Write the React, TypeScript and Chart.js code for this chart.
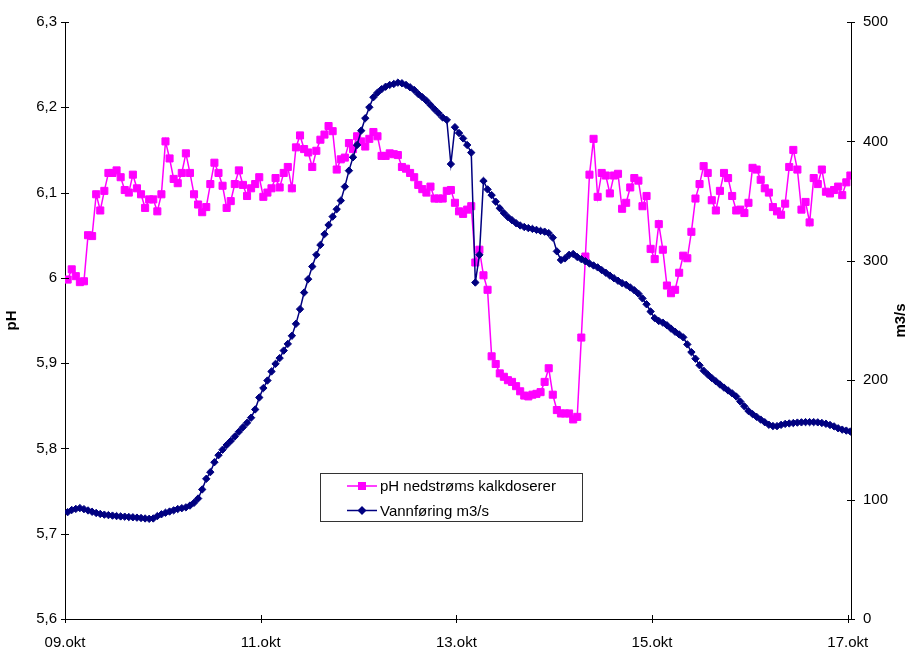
import React, { useEffect, useRef } from 'react';
import Chart from 'chart.js/auto';

// hourly readings from 09.okt to 17.okt (x in hours after 09.okt 00:00)
const START_HOUR = 0.65;
const X_MAX = 192.8;
const DAY_TICKS = [0, 48, 96, 144, 192];
const DAY_LABELS = ['09.okt', '11.okt', '13.okt', '15.okt', '17.okt'];
const PH_TICKS = [5.6, 5.7, 5.8, 5.9, 6.0, 6.1, 6.2, 6.3];
const FLOW_TICKS = [0, 100, 200, 300, 400, 500];

const PH_LABEL = 'pH nedstrøms kalkdoserer';
const FLOW_LABEL = 'Vannføring m3/s';

const phValues = [
  5.998, 6.010, 6.002, 5.995, 5.996, 6.050, 6.049, 6.098, 6.079, 6.102,
  6.123, 6.123, 6.126, 6.118, 6.103, 6.100, 6.121, 6.105, 6.098, 6.082,
  6.092, 6.092, 6.078, 6.098, 6.160, 6.140, 6.116, 6.111, 6.123, 6.146,
  6.123, 6.098, 6.086, 6.077, 6.083, 6.110, 6.135, 6.123, 6.108, 6.082,
  6.090, 6.110, 6.126, 6.109, 6.096, 6.105, 6.110, 6.118, 6.095, 6.100,
  6.105, 6.117, 6.106, 6.123, 6.130, 6.105, 6.153, 6.167, 6.151, 6.147,
  6.130, 6.149, 6.162, 6.168, 6.178, 6.172, 6.127, 6.139, 6.141, 6.158,
  6.151, 6.166, 6.160, 6.154, 6.163, 6.171, 6.166, 6.143, 6.143, 6.146,
  6.145, 6.144, 6.130, 6.128, 6.123, 6.118, 6.109, 6.104, 6.100, 6.107,
  6.093, 6.093, 6.093, 6.102, 6.103, 6.088, 6.078, 6.075, 6.080, 6.084,
  6.018, 6.033, 6.003, 5.986, 5.908, 5.899, 5.888, 5.884, 5.880, 5.878,
  5.873, 5.867, 5.862, 5.861, 5.863, 5.864, 5.866, 5.878, 5.894, 5.863,
  5.845, 5.841, 5.841, 5.841, 5.834, 5.837, 5.930, 6.025, 6.121, 6.163,
  6.095, 6.123, 6.120, 6.099, 6.120, 6.122, 6.081, 6.088, 6.106, 6.117,
  6.114, 6.084, 6.096, 6.034, 6.022, 6.063, 6.033, 5.991, 5.982, 5.986,
  6.006, 6.026, 6.023, 6.054, 6.093, 6.110, 6.131, 6.123, 6.091, 6.079,
  6.102, 6.123, 6.117, 6.096, 6.079, 6.080, 6.076, 6.088, 6.129, 6.127,
  6.115, 6.105, 6.100, 6.083, 6.078, 6.074, 6.087, 6.130, 6.150, 6.127,
  6.080, 6.089, 6.065, 6.117, 6.110, 6.127, 6.101, 6.099, 6.103, 6.107,
  6.097, 6.112, 6.120,
];

const flowValues = [
  89.5, 91.3, 92.2, 92.9, 92.0, 90.9, 89.8, 88.8, 88.0, 87.4,
  87.0, 86.6, 86.2, 85.9, 85.7, 85.4, 85.2, 84.9, 84.6, 84.2,
  83.9, 84.2, 86.2, 87.7, 89.0, 90.0, 91.0, 92.1, 92.8, 93.5,
  95.0, 97.3, 100.9, 108.5, 117.4, 123.0, 131.3, 137.2, 141.8, 145.7,
  149.1, 152.8, 156.8, 160.6, 164.3, 168.6, 175.5, 185.5, 193.4, 199.7,
  207.3, 213.7, 218.5, 224.8, 230.4, 237.2, 247.2, 259.5, 273.4, 284.6,
  295.2, 305.0, 313.3, 322.3, 330.0, 337.0, 343.2, 350.4, 362.1, 375.5,
  386.7, 397.0, 409.0, 419.4, 428.6, 437.0, 440.8, 443.7, 445.8, 447.3,
  448.1, 449.2, 448.7, 447.3, 445.3, 443.1, 439.7, 437.0, 434.1, 430.5,
  426.9, 423.6, 420.0, 418.0, 381.0, 411.9, 407.0, 402.5, 397.0, 390.6,
  281.8, 305.0, 366.9, 359.8, 355.0, 349.5, 344.0, 340.0, 336.6, 334.0,
  331.5, 329.6, 328.3, 327.4, 326.7, 325.9, 325.0, 324.4, 323.2, 319.4,
  307.9, 300.7, 302.0, 305.0, 305.7, 303.2, 301.4, 299.6, 297.7, 296.1,
  294.5, 292.2, 290.0, 287.6, 285.4, 283.3, 281.3, 279.9, 277.7, 275.3,
  272.5, 268.5, 263.6, 257.5, 252.0, 249.6, 248.2, 246.0, 243.2, 240.6,
  238.3, 235.9, 230.0, 223.5, 218.0, 212.5, 208.0, 204.8, 201.8, 199.1,
  196.4, 193.8, 191.4, 189.0, 186.3, 182.1, 178.1, 174.2, 171.6, 169.3,
  167.0, 164.8, 162.7, 161.6, 161.5, 162.6, 163.4, 163.8, 164.1, 164.5,
  164.7, 164.9, 164.9, 164.9, 164.7, 164.2, 163.5, 162.5, 161.3, 159.7,
  158.6, 157.8, 157.0,
];

const PINK = '#FF00FF';
const NAVY = '#000080';
const FONT_FAMILY = '"Liberation Sans", Arial, sans-serif';

const toPoints = (values: number[]) =>
  values.map((v, i) => ({ x: START_HOUR + i, y: v }));

const formatPh = (v: number) => {
  const s = v.toFixed(1);
  return (s.endsWith('.0') ? s.slice(0, -2) : s).replace('.', ',');
};

// tick marks that cross the axis lines, like the original
const crossTicks = {
  id: 'crossTicks',
  afterDraw(chart: any) {
    const { ctx } = chart;
    const { x, y, y1 } = chart.scales;
    ctx.save();
    ctx.strokeStyle = '#000';
    ctx.lineWidth = 1;
    ctx.beginPath();
    x.ticks.forEach((t: any) => {
      const px = Math.round(x.getPixelForValue(t.value)) + 0.5;
      ctx.moveTo(px, x.top - 4);
      ctx.lineTo(px, x.top + 4);
    });
    y.ticks.forEach((t: any) => {
      const py = Math.round(y.getPixelForValue(t.value)) + 0.5;
      ctx.moveTo(y.right - 4, py);
      ctx.lineTo(y.right + 4, py);
    });
    y1.ticks.forEach((t: any) => {
      const py = Math.round(y1.getPixelForValue(t.value)) + 0.5;
      ctx.moveTo(y1.left - 4, py);
      ctx.lineTo(y1.left + 4, py);
    });
    ctx.stroke();
    ctx.restore();
  },
};

// axis titles, both read bottom-to-top
const axisTitles = {
  id: 'axisTitles',
  afterDraw(chart: any) {
    const { ctx, chartArea } = chart;
    const midY = (chartArea.top + chartArea.bottom) / 2;
    ctx.save();
    ctx.fillStyle = '#000';
    ctx.font = `bold 15px ${FONT_FAMILY}`;
    ctx.textAlign = 'center';
    ctx.textBaseline = 'middle';
    [
      ['pH', 12],
      ['m3/s', 901],
    ].forEach(([text, cx]) => {
      ctx.save();
      ctx.translate(cx as number, midY);
      ctx.rotate(-Math.PI / 2);
      ctx.fillText(text as string, 0, 0);
      ctx.restore();
    });
    ctx.restore();
  },
};

// boxed legend sitting inside the plot
const boxLegend = {
  id: 'boxLegend',
  afterDatasetsDraw(chart: any) {
    const { ctx } = chart;
    const left = 320.5;
    const top = 473.5;
    const w = 262;
    const h = 48;
    ctx.save();
    ctx.fillStyle = '#fff';
    ctx.fillRect(left, top, w, h);
    ctx.strokeStyle = '#333';
    ctx.lineWidth = 1;
    ctx.strokeRect(left, top, w, h);

    const rows = [
      { label: PH_LABEL, color: PINK, marker: 'square', y: 486 },
      { label: FLOW_LABEL, color: NAVY, marker: 'diamond', y: 510.5 },
    ];
    rows.forEach((r) => {
      ctx.strokeStyle = r.color;
      ctx.lineWidth = 1.5;
      ctx.beginPath();
      ctx.moveTo(347, r.y);
      ctx.lineTo(377, r.y);
      ctx.stroke();
      ctx.fillStyle = r.color;
      ctx.beginPath();
      if (r.marker === 'square') {
        ctx.rect(358, r.y - 4, 8, 8);
      } else {
        ctx.moveTo(362, r.y - 4.5);
        ctx.lineTo(366.5, r.y);
        ctx.lineTo(362, r.y + 4.5);
        ctx.lineTo(357.5, r.y);
        ctx.closePath();
      }
      ctx.fill();
      ctx.fillStyle = '#000';
      ctx.font = `15px ${FONT_FAMILY}`;
      ctx.textAlign = 'left';
      ctx.textBaseline = 'middle';
      ctx.fillText(r.label, 380, r.y + 1);
    });
    ctx.restore();
  },
};

const App: React.FC = () => {
  const chartRef = useRef<HTMLCanvasElement>(null);
  const chartInstance = useRef<Chart | null>(null);

  useEffect(() => {
    if (!chartRef.current) return;
    if (chartInstance.current) {
      chartInstance.current.destroy();
    }
    const ctx = chartRef.current.getContext('2d');
    if (!ctx) return;

    const tickFont = { family: FONT_FAMILY, size: 15 };

    chartInstance.current = new Chart(ctx, {
      type: 'line',
      data: {
        datasets: [
          {
            label: FLOW_LABEL,
            data: toPoints(flowValues),
            yAxisID: 'y1',
            borderColor: NAVY,
            borderWidth: 1.5,
            backgroundColor: NAVY,
            pointStyle: 'rectRot',
            pointRadius: 3.7,
            pointBorderWidth: 1,
            pointBackgroundColor: NAVY,
            pointBorderColor: NAVY,
            tension: 0,
            order: 0,
          },
          {
            label: PH_LABEL,
            data: toPoints(phValues),
            yAxisID: 'y',
            borderColor: PINK,
            borderWidth: 1.5,
            backgroundColor: PINK,
            pointStyle: 'rect',
            pointRadius: 5,
            pointBorderWidth: 1,
            pointBackgroundColor: PINK,
            pointBorderColor: PINK,
            tension: 0,
            order: 1,
          },
        ],
      },
      options: {
        responsive: false,
        animation: false,
        layout: { padding: { top: 22, left: 0, right: 0, bottom: 0 } },
        plugins: {
          legend: { display: false },
          tooltip: { enabled: false },
        },
        scales: {
          x: {
            type: 'linear',
            min: 0,
            max: X_MAX,
            afterBuildTicks: (s: any) => {
              s.ticks = DAY_TICKS.map((v) => ({ value: v }));
            },
            afterFit: (s: any) => {
              s.height = 29;
            },
            ticks: {
              font: tickFont,
              color: '#000',
              padding: 15,
              maxRotation: 0,
              autoSkip: false,
              callback: (v: any) => DAY_LABELS[DAY_TICKS.indexOf(Number(v))] ?? '',
            },
            grid: { display: false, drawTicks: false },
            border: { display: true, color: '#000', width: 1 },
          },
          y: {
            type: 'linear',
            position: 'left',
            min: 5.6,
            max: 6.3,
            afterBuildTicks: (s: any) => {
              s.ticks = PH_TICKS.map((v) => ({ value: v }));
            },
            afterFit: (s: any) => {
              s.width = 65;
            },
            ticks: {
              font: tickFont,
              color: '#000',
              padding: 8,
              callback: (v: any) => formatPh(Number(v)),
            },
            grid: { display: false, drawTicks: false },
            border: { display: true, color: '#000', width: 1 },
          },
          y1: {
            type: 'linear',
            position: 'right',
            min: 0,
            max: 500,
            afterBuildTicks: (s: any) => {
              s.ticks = FLOW_TICKS.map((v) => ({ value: v }));
            },
            afterFit: (s: any) => {
              s.width = 57;
            },
            ticks: {
              font: tickFont,
              color: '#000',
              padding: 12,
              callback: (v: any) => String(v),
            },
            grid: { display: false, drawTicks: false },
            border: { display: true, color: '#000', width: 1 },
          },
        },
      },
      plugins: [crossTicks, axisTitles, boxLegend],
    });

    return () => {
      if (chartInstance.current) {
        chartInstance.current.destroy();
        chartInstance.current = null;
      }
    };
  }, []);

  return (
    <div style={{ position: 'absolute', left: 0, top: 0, width: 908, height: 648, background: '#fff' }}>
      <canvas ref={chartRef} width={908} height={648} style={{ width: 908, height: 648 }}></canvas>
    </div>
  );
};

export default App;
